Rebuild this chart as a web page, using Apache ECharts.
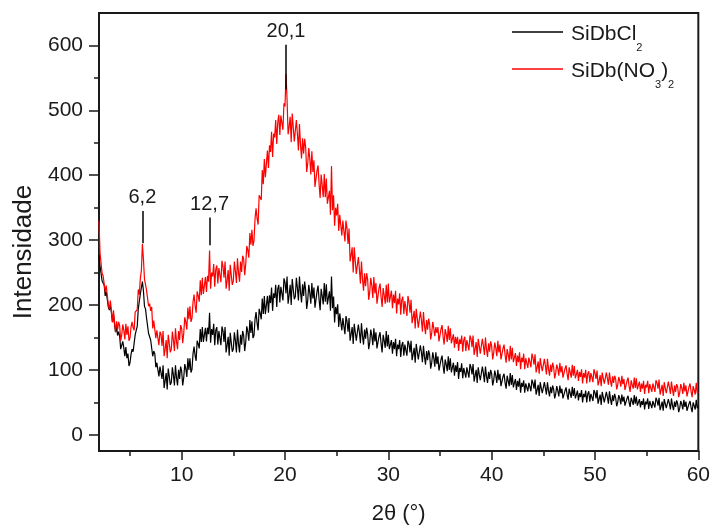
<!DOCTYPE html>
<html><head><meta charset="utf-8">
<script src="https://cdn.jsdelivr.net/npm/echarts@6/dist/echarts.min.js"></script>
<style>html,body{margin:0;padding:0;background:#fff}#c{width:713px;height:530px}</style>
</head><body><div id="c"></div>
<script>
// 2θ sampling: from 2.0° to 60.0° every 0.1°
const thetaStart = 2, thetaStep = 0.1;

const sidbCl2 = [
277,260,260,237,234,231,214,220,209,197,
192,200,188,174,186,170,158,166,153,159,
152,132,135,144,134,121,135,118,125,106,
111,124,132,128,129,154,161,167,194,193,
217,220,236,222,198,194,180,178,156,158,
146,148,121,129,125,104,111,100,90,105,
103,86,107,72,83,95,70,102,90,77,
81,104,92,76,107,88,76,100,86,105,
98,76,88,109,102,89,118,100,118,96,
101,125,136,122,114,145,140,133,163,143,
166,143,154,165,144,165,155,188,142,163,
154,171,138,161,166,139,160,149,138,167,
160,143,166,127,138,151,122,157,142,128,
132,158,145,127,162,140,127,154,139,160,
153,129,143,167,159,145,177,157,175,149,
153,178,189,172,161,194,187,178,210,186,
214,186,200,214,188,215,203,227,191,218,
211,231,197,225,231,204,228,218,207,241,
235,218,244,202,215,231,200,240,224,209,
213,242,226,207,244,220,204,232,214,236,
223,194,207,231,219,202,234,210,227,196,
197,221,230,208,192,225,214,201,234,205,
232,201,211,221,191,244,195,213,173,197,
186,201,166,187,190,161,180,167,155,183,
175,159,180,145,155,166,140,171,158,145,
148,170,158,141,172,152,139,162,148,165,
155,132,142,162,153,138,164,144,158,133,
132,152,158,140,127,154,145,134,160,136,
154,132,139,146,125,143,132,148,121,139,
132,146,120,138,143,122,139,130,122,145,
140,127,145,115,124,134,111,140,128,116,
119,138,127,112,137,120,108,129,115,130,
123,102,111,127,118,105,127,109,121,99,
99,116,122,106,94,116,109,98,121,100,
118,96,104,111,91,107,97,112,86,103,
97,110,87,103,106,88,104,96,88,109,
104,93,109,82,91,100,80,104,93,84,
86,105,95,81,105,90,80,97,86,100,
94,76,84,99,91,80,100,84,94,75,
76,90,94,80,71,91,83,75,95,77,
92,73,80,86,69,83,74,87,65,80,
74,84,65,79,82,67,80,74,67,85,
80,71,85,62,69,77,60,81,72,64,
65,81,72,62,81,68,59,74,64,76,
70,56,63,75,68,59,76,64,71,56,
56,68,73,62,54,71,64,57,74,60,
72,56,62,68,53,64,58,69,50,63,
58,68,50,63,67,51,63,58,52,69,
65,56,69,48,55,62,46,66,58,50,
52,66,58,48,67,55,46,61,52,63,
57,44,50,61,56,47,62,51,59,45,
45,56,60,50,43,57,52,46,61,48,
59,45,50,55,42,52,46,56,39,51,
47,56,40,52,54,41,52,47,42,57,
53,45,57,38,44,51,37,55,48,41,
42,55,48,39,56,45,38,51,43,53,
48,35,41,52,47,39,54,43,51,37,
37,48,52,42,35,50,45,39,54,41,
44
];

const sidbNO3 = [
330,280,280,249,245,242,220,230,215,201,
194,207,191,173,192,173,159,175,162,174,
168,145,154,170,161,147,171,154,167,145,
149,166,174,165,161,189,191,193,224,216,
241,253,294,271,240,239,223,223,198,202,
191,197,164,176,175,149,161,149,138,159,
155,137,160,121,132,146,118,154,141,127,
132,159,146,129,164,144,132,160,146,169,
164,141,156,181,174,162,196,178,198,174,
180,205,216,199,188,221,214,205,238,215,
242,217,230,243,220,245,236,284,225,250,
244,263,228,255,261,233,257,246,235,268,
259,242,267,225,238,254,222,262,246,231,
237,267,252,234,272,250,236,267,251,276,
271,246,263,291,285,273,311,293,316,291,
299,333,349,333,324,369,366,362,408,386,
425,397,418,438,411,446,436,467,428,464,
458,485,448,482,493,462,492,481,470,511,
506,556,516,463,475,490,451,495,474,452,
455,485,464,438,479,447,426,457,433,456,
443,405,418,442,426,401,437,405,423,382,
382,407,415,386,365,401,385,366,402,366,
395,356,366,376,339,414,346,369,322,350,
338,356,314,339,342,307,330,314,298,330,
318,294,318,267,277,289,250,289,268,248,
249,274,255,233,267,240,222,249,229,249,
239,208,220,242,230,211,243,218,234,202,
205,226,233,212,197,226,215,202,231,204,
233,204,213,222,195,216,203,222,187,210,
201,218,185,208,213,186,206,195,183,214,
205,188,208,172,181,191,164,194,180,165,
168,190,177,159,189,168,155,177,162,179,
170,147,157,174,164,152,166,157,166,144,
145,163,169,151,139,163,155,143,168,146,
164,141,148,155,134,151,140,151,129,147,
140,153,128,146,151,129,146,138,130,153,
148,135,153,123,132,143,120,148,137,125,
128,148,137,123,150,132,120,141,128,144,
137,116,126,142,134,121,145,127,139,116,
117,133,139,123,111,132,124,113,137,116,
134,112,119,126,106,122,112,127,101,119,
112,125,101,118,121,103,119,112,104,125,
119,108,124,96,104,113,94,118,107,98,
99,117,106,93,117,102,91,108,97,111,
104,87,95,108,102,91,111,96,106,88,
88,102,107,94,84,104,96,88,108,91,
106,87,93,100,83,97,89,101,79,95,
88,100,79,94,98,81,95,89,81,101,
95,86,99,76,83,92,75,96,87,79,
80,96,87,77,96,83,74,90,80,91,
86,70,77,89,83,74,91,78,86,69,
70,83,88,75,66,84,77,71,88,72,
87,70,76,82,66,79,71,83,63,77,
73,83,64,78,81,66,79,73,66,84,
80,71,85,62,69,77,60,81,72,64,
66,82,73,63,82,70,60,76,66,78,
74,58,65,78,72,63,80,67,76,59,
61,74,79,67,58,75,69,62,80,64,
66
];

const seriesNames = ['SiDbCl2', 'SiDb(NO3)2'];
const seriesColors = ['#000000', '#ff0000'];
const xMajorTicks = [10, 20, 30, 40, 50, 60];
const xMinorTicks = [5, 15, 25, 35, 45, 55];
const yMajorTicks = [0, 100, 200, 300, 400, 500, 600];
const yMinorTicks = [50, 150, 250, 350, 450, 550];
const peakPos = [6.2, 12.7, 20.1];
const peakLabels = ['6,2', '12,7', '20,1'];
const peakTop = [345, 335, 601];
const peakBase = [295, 292, 532];

const FONT = 'Liberation Sans, Arial, sans-serif';
const INK = '#1a1a1a';

function toPairs(arr) {
  return arr.map((v, i) => [+(thetaStart + i * thetaStep).toFixed(1), v]);
}

const axisLineStyle = { color: INK, width: 2 };

const chart = echarts.init(document.getElementById('c'), null, { renderer: 'canvas' });
chart.setOption({
  animation: false,
  backgroundColor: '#fff',
  grid: { left: 99, right: 11, top: 13, bottom: 77, show: true, borderColor: INK, borderWidth: 2, backgroundColor: 'transparent' },
  legend: {
    data: seriesNames,
    orient: 'vertical',
    left: 507,
    top: 15,
    icon: 'rect',
    itemWidth: 51,
    itemHeight: 1.5,
    itemGap: -6,
    selectedMode: false,
    textStyle: {
      fontFamily: FONT, color: INK,
      rich: {
        f: { fontFamily: FONT, color: INK, fontSize: 21, lineHeight: 24, padding: [3.5, 0, 0, 3], verticalAlign: 'top' },
        a: { fontFamily: FONT, color: INK, fontSize: 21, lineHeight: 24, padding: [3.5, 0, 0, 0], verticalAlign: 'top' },
        s: { fontFamily: FONT, color: INK, fontSize: 11, lineHeight: 11, padding: [22.5, 0, 9.5, 0], verticalAlign: 'top' }
      }
    },
    formatter: function (name) {
      if (name === seriesNames[0]) return '{f|SiDbCl}{s|2}';
      return '{f|SiDb(NO}{s|3}{a|)}{s|2}';
    }
  },
  xAxis: [
    {
      type: 'value', min: 2, max: 60, position: 'bottom',
      axisLine: { show: true, onZero: false, lineStyle: axisLineStyle },
      axisTick: { show: true, length: 9, customValues: xMajorTicks, lineStyle: { color: INK, width: 1.5 } },
      axisLabel: { customValues: xMajorTicks, fontSize: 21, color: INK, fontFamily: FONT, margin: 14 },
      splitLine: { show: false },
      name: '2θ (°)', nameLocation: 'middle', nameGap: 52,
      nameTextStyle: { fontSize: 22, color: INK, fontFamily: FONT }
    },
    {
      type: 'value', min: 2, max: 60, position: 'bottom',
      axisLine: { show: true, onZero: false, lineStyle: axisLineStyle },
      axisTick: { show: true, length: 5, customValues: xMinorTicks, lineStyle: { color: INK, width: 1.5 } },
      axisLabel: { show: false },
      splitLine: { show: false }
    }
  ],
  yAxis: [
    {
      type: 'value', min: -25, max: 650, position: 'left',
      axisLine: { show: true, onZero: false, lineStyle: axisLineStyle },
      axisTick: { show: true, length: 10, customValues: yMajorTicks, lineStyle: { color: INK, width: 1.5 } },
      axisLabel: { customValues: yMajorTicks, fontSize: 21, color: INK, fontFamily: FONT, margin: 16 },
      splitLine: { show: false },
      name: 'Intensidade', nameLocation: 'middle', nameGap: 62,
      nameTextStyle: { fontSize: 26, color: INK, fontFamily: FONT, padding: [0, 40, 0, 0] }
    },
    {
      type: 'value', min: -25, max: 650, position: 'left',
      axisLine: { show: true, onZero: false, lineStyle: axisLineStyle },
      axisTick: { show: true, length: 5, customValues: yMinorTicks, lineStyle: { color: INK, width: 1.5 } },
      axisLabel: { show: false },
      splitLine: { show: false }
    }
  ],
  series: [
    {
      name: seriesNames[0], type: 'line', xAxisIndex: 0, yAxisIndex: 0,
      data: toPairs(sidbCl2), symbol: 'none', showSymbol: false,
      lineStyle: { color: seriesColors[0], width: 1.2 }, itemStyle: { color: seriesColors[0] },
      emphasis: { disabled: true }, z: 2,
      markLine: {
        silent: true, symbol: ['none', 'none'], animation: false,
        lineStyle: { color: '#000', width: 1.5, type: 'solid' },
        label: { show: true, position: 'start', formatter: '{b}', fontSize: 20, color: INK, fontFamily: FONT, distance: 3 },
        emphasis: { disabled: true },
        data: peakPos.map((p, i) => [
          { name: peakLabels[i], coord: [p, peakTop[i]] },
          { coord: [p, peakBase[i]] }
        ])
      }
    },
    {
      name: seriesNames[1], type: 'line', xAxisIndex: 0, yAxisIndex: 0,
      data: toPairs(sidbNO3), symbol: 'none', showSymbol: false,
      lineStyle: { color: seriesColors[1], width: 1.2 }, itemStyle: { color: seriesColors[1] },
      emphasis: { disabled: true }, z: 3
    }
  ]
});
</script>
</body></html>
